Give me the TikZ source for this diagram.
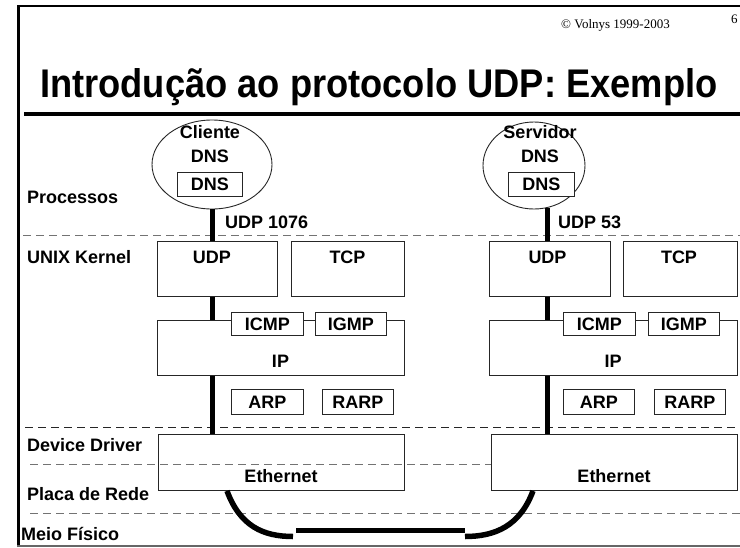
\documentclass[tikz,border=0pt]{standalone}
\usepackage{fontspec}
\setmainfont{Liberation Sans}
\newfontfamily\timesfont{Liberation Serif}
\usepackage{graphicx}
\usetikzlibrary{shapes.geometric,calc}
\begin{document}
\begin{tikzpicture}[x=1pt,y=-1pt,
  lbl/.style={font=\bfseries\fontsize{18}{20}\selectfont, inner sep=0pt, anchor=base},
  sidelbl/.style={lbl, anchor=base west},
  box/.style={draw=black!85, line width=0.9pt, fill=white, inner sep=0pt, anchor=north west,
    font=\bfseries\fontsize{18}{20}\selectfont, text height=12.9pt, text depth=0pt},
  openbox/.style={box, fill=none},
  proc/.style={ellipse, draw=black!85, line width=0.9pt, inner sep=0pt},
  dashln/.style={dash pattern=on 8pt off 5pt, line width=0.9pt},
  pipe/.style={line width=5pt},
  cable/.style={line width=5.5pt}]
\useasboundingbox (0,0) rectangle (740,547);
% frame
\draw[line width=2.5pt] (18.5,547) -- (18.5,6) -- (740,6);
\draw[black!60, line width=1.2pt] (17,546) -- (740,546);
\draw[line width=4pt] (24,114) -- (740,114);
% header texts
\node[font=\timesfont\fontsize{13}{15}\selectfont, anchor=base east, inner sep=0pt] (copy) at (670,28) {© Volnys 1999-2003};
\node[font=\timesfont\fontsize{13}{15}\selectfont, anchor=base west, inner sep=0pt] (pg) at (731,23) {6};
\node[anchor=base west, inner sep=0pt] (title) at (40,97) {\scalebox{0.907}[1]{\bfseries\fontsize{40}{48}\selectfont Introdução ao protocolo UDP: Exemplo}};
% layer labels
\node[sidelbl] (l1) at (27,203) {Processos};
\node[sidelbl] (l2) at (27,263) {UNIX Kernel};
\node[sidelbl] (l3) at (27,451) {Device Driver};
\node[sidelbl] (l4) at (27,500) {Placa de Rede};
\node[sidelbl] (l5) at (21,540) {Meio Físico};
% dashed layer separators
\draw[dashln, black!55] (23,235) -- (740,235);
\draw[dashln, black!85] (25,427) -- (740,427);
\draw[dashln, black!55] (30,513) -- (740,513);
% processes
\node[proc, minimum width=120pt, minimum height=89pt] (cli) at (212,164.5) {};
\node[lbl] (clit1) at (210,138) {Cliente};
\node[lbl] (clit2) at (210,162) {DNS};
\node[box, minimum width=65pt, minimum height=24pt] (dns1) at (177,172) {DNS};
\node[proc, minimum width=102pt, minimum height=87pt] (srv) at (534,165.5) {};
\node[lbl] (srvt1) at (540,138) {Servidor};
\node[lbl] (srvt2) at (540,162) {DNS};
\node[box, minimum width=66pt, minimum height=24pt] (dns2) at (508,172) {DNS};
% left stack
\node[box, minimum width=120pt, minimum height=55pt] (udp1) at (157,241) {};
\node[lbl] at (212,263) {UDP};
\node[box, minimum width=113pt, minimum height=55pt] (tcp1) at (291,241) {};
\node[lbl] at (347.5,263) {TCP};
\node[box, minimum width=247pt, minimum height=55pt] (ip1) at (157,320) {};
\node[lbl] at (280.5,367) {IP};
\node[box, minimum width=72pt, minimum height=23pt] (icmp1) at (231,312) {ICMP};
\node[box, minimum width=71pt, minimum height=23pt] (igmp1) at (315,312) {IGMP};
\node[box, minimum width=72pt, minimum height=25pt] (arp1) at (231,389) {ARP};
\node[box, minimum width=71pt, minimum height=25pt] (rarp1) at (322,389) {RARP};
\node[openbox, minimum width=246pt, minimum height=56pt] (eth1) at (158,434) {};
\node[lbl] at (281,482) {Ethernet};
% right stack
\node[box, minimum width=121pt, minimum height=55pt] (udp2) at (489,241) {};
\node[lbl] at (547.5,263) {UDP};
\node[box, minimum width=114pt, minimum height=55pt] (tcp2) at (623,241) {};
\node[lbl] at (679,263) {TCP};
\node[box, minimum width=248pt, minimum height=55pt] (ip2) at (489,320) {};
\node[lbl] at (613,367) {IP};
\node[box, minimum width=72pt, minimum height=23pt] (icmp2) at (563,312) {ICMP};
\node[box, minimum width=71pt, minimum height=23pt] (igmp2) at (648,312) {IGMP};
\node[box, minimum width=71pt, minimum height=25pt] (arp2) at (563,389) {ARP};
\node[box, minimum width=71pt, minimum height=25pt] (rarp2) at (654,389) {RARP};
\node[box, minimum width=246pt, minimum height=56pt] (eth2) at (491,434) {};
\node[lbl] at (614,482) {Ethernet};
% dashed line between driver and card (crosses left Ethernet box)
\draw[dashln, black!55] (30,464) -- (eth2.west |- 0,464);
% ports
\node[lbl, anchor=base west] (p1076) at (225,228) {UDP 1076};
\node[lbl, anchor=base west] (p53) at (558,228) {UDP 53};
% data path, client
\draw[pipe] (cli.south) -- (cli.south |- udp1.north);
\draw[pipe] (cli.south |- udp1.south) -- (cli.south |- ip1.north);
\draw[pipe] (cli.south |- ip1.south) -- (cli.south |- eth1.north);
% data path, server
\draw[pipe] (srv.-73) -- (srv.-73 |- udp2.north);
\draw[pipe] (srv.-73 |- udp2.south) -- (srv.-73 |- ip2.north);
\draw[pipe] (srv.-73 |- ip2.south) -- (srv.-73 |- eth2.north);
% physical medium
\coordinate (c1) at (293,536.5);
\coordinate (c2) at (296,530.5);
\coordinate (c3) at (465,530.5);
\coordinate (c4) at (465,536.5);
\draw[cable] ($(eth1.south west)+(69,0)$) .. controls (240,526) and (263,536.5) .. (c1);
\draw[cable] (c2) -- (c3);
\draw[cable] (c4) .. controls (495,536.5) and (520,526) .. ($(eth2.south west)+(42,0)$);
\end{tikzpicture}
\end{document}
